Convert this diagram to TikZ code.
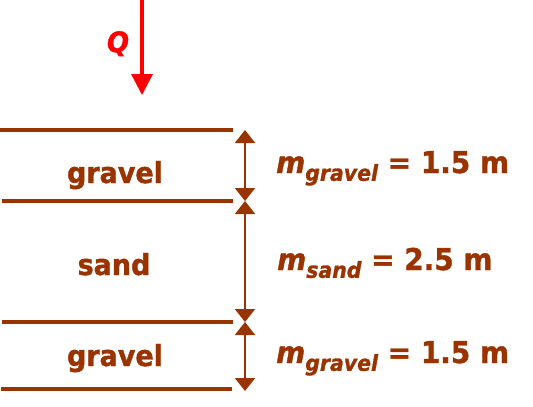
\documentclass[tikz,border=0pt]{standalone}
\usepackage{fontspec}
\setmainfont{DejaVu Sans}[FakeStretch=0.93, BoldFeatures={FakeBold=1.2}, BoldItalicFeatures={FakeBold=1.2}]
\usetikzlibrary{arrows.meta}
\definecolor{soil}{RGB}{153,51,0}
\definecolor{load}{RGB}{255,0,0}
\tikzset{
  layerline/.style={draw=soil, line width=4pt},
  dim/.style={draw=soil, line width=2pt, {Triangle[width=20pt,length=13pt]}-{Triangle[width=20pt,length=13pt]}},
  lbl/.style={text=soil, font=\fontsize{29}{32}\selectfont\bfseries, inner sep=0pt},
  eqlbl/.style={text=soil, font=\fontsize{30}{33}\selectfont\bfseries, inner sep=0pt, anchor=base west},
}
\newcommand{\msub}[1]{{\itshape m}\raisebox{-0.26em}{\fontsize{22}{24}\selectfont\itshape #1}}
\begin{document}
\begin{tikzpicture}[x=1pt,y=-1pt]
\useasboundingbox (0,0) rectangle (533,407);
% layer lines
\coordinate (l1a) at (0,130);   \coordinate (l1b) at (233,130);
\coordinate (l2a) at (2,201);   \coordinate (l2b) at (233,201);
\coordinate (l3a) at (2,322);   \coordinate (l3b) at (233,322);
\coordinate (l4a) at (1,389);   \coordinate (l4b) at (232,389);
\draw[layerline] (l1a) -- (l1b);
\draw[layerline] (l2a) -- (l2b);
\draw[layerline] (l3a) -- (l3b);
\draw[layerline] (l4a) -- (l4b);
% dimension arrows
\coordinate (d1) at (245,130);
\coordinate (d2) at (245,201);
\coordinate (d3) at (245,322);
\coordinate (d4) at (245,391);
\draw[dim] (d1) -- (d2);
\draw[dim] (d2) -- (d3);
\draw[dim] (d3) -- (d4);
% layer names
\node[lbl, anchor=base] (g1) at (115,183) {gravel};
\node[lbl, anchor=base] (s1) at (114,275) {sand};
\node[lbl, anchor=base] (g2) at (115,366) {gravel};
% thickness labels
\node[eqlbl] (m1) at (276,173) {\msub{gravel} = 1.5 m};
\node[eqlbl] (m2) at (277,270) {\msub{sand} = 2.5 m};
\node[eqlbl] (m3) at (276,363) {\msub{gravel} = 1.5 m};
% load
\coordinate (q0) at (142,0);
\coordinate (q1) at (142,95);
\draw[draw=load, line width=3.3pt, -{Triangle[width=21pt,length=21pt]}] (q0) -- (q1);
\node[text=load, font=\fontsize{28}{30}\selectfont\bfseries\itshape, inner sep=0pt, anchor=base] (Q) at (118,52) {Q};
\end{tikzpicture}
\end{document}
